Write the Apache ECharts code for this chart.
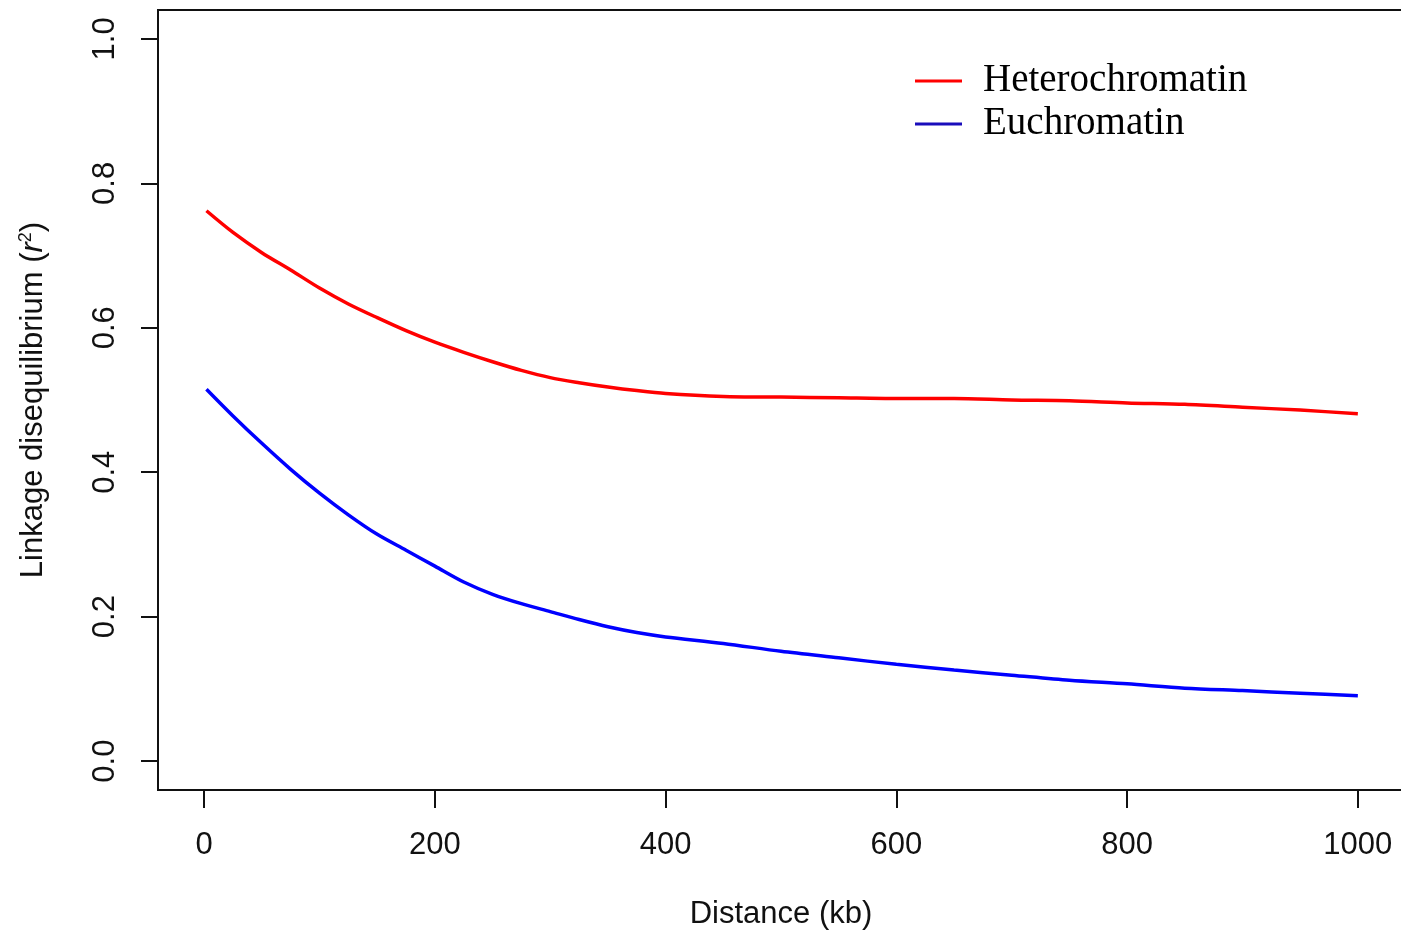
<!DOCTYPE html>
<html>
<head>
<meta charset="utf-8">
<script src="https://cdn.jsdelivr.net/npm/echarts@6/dist/echarts.min.js"></script>
<style>
html,body{margin:0;padding:0;background:#fff;}
#chart{width:1401px;height:936px;}
</style>
</head>
<body>
<div id="chart"></div>
<script>
// Distance (kb)
const distance = [2, 25, 50, 75, 100, 125, 150, 175, 200, 225, 250, 275, 300, 325, 350, 375, 400, 450, 500, 550, 600, 650, 700, 750, 800, 850, 900, 950, 1000];
const heterochromatin = [0.762, 0.732, 0.704, 0.680, 0.655, 0.633, 0.614, 0.596, 0.580, 0.566, 0.553, 0.541, 0.531, 0.524, 0.518, 0.513, 0.509, 0.505, 0.504, 0.503, 0.502, 0.502, 0.500, 0.499, 0.496, 0.494, 0.490, 0.486, 0.481];
const euchromatin = [0.515, 0.478, 0.440, 0.404, 0.371, 0.341, 0.314, 0.292, 0.270, 0.248, 0.231, 0.218, 0.207, 0.196, 0.186, 0.178, 0.172, 0.163, 0.152, 0.143, 0.134, 0.126, 0.119, 0.112, 0.107, 0.101, 0.0976, 0.094, 0.0905];
const xTicks = [0, 200, 400, 600, 800, 1000];
const yTicks = [0, 0.2, 0.4, 0.6, 0.8, 1.0];
const seriesNames = ['Heterochromatin', 'Euchromatin'];

const sansFont = "'Liberation Sans', Arial, sans-serif";
const pair = (xs, ys) => xs.map((x, i) => [x, ys[i]]);

const chart = echarts.init(document.getElementById('chart'), null, {renderer: 'canvas'});
chart.setOption({
  animation: false,
  backgroundColor: '#ffffff',
  grid: {
    left: 158, top: 10, width: 1246, height: 780,
    outerBoundsMode: 'none', containLabel: false,
    show: true, borderColor: '#111', borderWidth: 2, backgroundColor: 'transparent'
  },
  legend: {
    orient: 'vertical',
    left: 915, top: 61,
    padding: 0,
    itemWidth: 47, itemHeight: 3,
    itemGap: 3,
    icon: 'rect',
    textStyle: {
      fontFamily: "'Liberation Serif', 'Times New Roman', serif",
      fontSize: 39, color: '#000', lineHeight: 40,
      padding: [0, 0, 0, 16]
    },
    data: seriesNames
  },
  xAxis: {
    type: 'value',
    min: -40, max: 1040,
    name: 'Distance (kb)',
    nameLocation: 'middle',
    nameGap: 109,
    nameTextStyle: {fontFamily: sansFont, fontSize: 31, color: '#111'},
    axisLine: {show: false, onZero: false},
    axisTick: {show: true, inside: false, length: 18, lineStyle: {color: '#111', width: 2}, customValues: xTicks},
    axisLabel: {show: true, margin: 40, fontFamily: sansFont, fontSize: 31, color: '#111', customValues: xTicks, formatter: v => String(v)},
    splitLine: {show: false}
  },
  yAxis: {
    type: 'value',
    min: -0.04, max: 1.04,
    name: 'Linkage disequilibrium ({i|r}{s|2})',
    nameLocation: 'middle',
    nameGap: 109,
    nameRotate: 90,
    nameTextStyle: {
      fontFamily: sansFont, fontSize: 31, color: '#111',
      rich: {
        i: {fontFamily: sansFont, fontSize: 31, fontStyle: 'italic', color: '#111'},
        s: {fontFamily: sansFont, fontSize: 18, color: '#111', padding: [0, 0, 14, 0]}
      }
    },
    axisLine: {show: false, onZero: false},
    axisTick: {show: true, inside: false, length: 17, lineStyle: {color: '#111', width: 2}, customValues: yTicks},
    axisLabel: {
      show: true, rotate: 90, margin: 37,
      fontFamily: sansFont, fontSize: 31, color: '#111',
      customValues: yTicks,
      formatter: v => v.toFixed(1)
    },
    splitLine: {show: false}
  },
  series: [
    {
      name: seriesNames[0], type: 'line', data: pair(distance, heterochromatin),
      smooth: 0.3, showSymbol: false,
      lineStyle: {color: '#ff0000', width: 3.5}, itemStyle: {color: '#ff0000'}
    },
    {
      name: seriesNames[1], type: 'line', data: pair(distance, euchromatin),
      smooth: 0.3, showSymbol: false,
      lineStyle: {color: '#0000ff', width: 3.5}, itemStyle: {color: '#1a0dbb'}
    }
  ]
});
</script>
</body>
</html>
